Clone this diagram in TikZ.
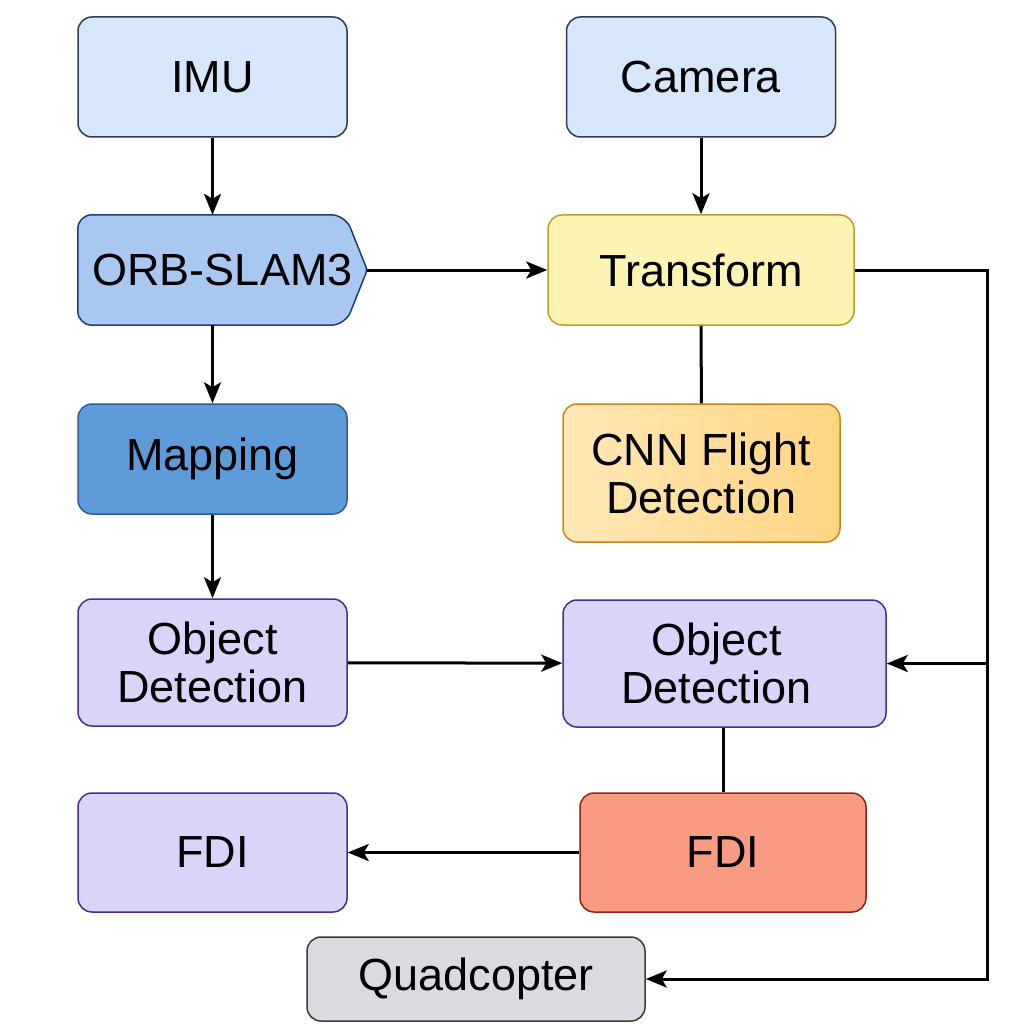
\documentclass[tikz,border=0pt]{standalone}
\usepackage{fontspec}
\setmainfont{Liberation Sans}
\usepackage{tikz}
\usetikzlibrary{arrows.meta,positioning}
\usepackage{xcolor}

\definecolor{sensfill}{HTML}{D6E6FB}
\definecolor{sensline}{HTML}{2B3A55}
\definecolor{orbfill}{HTML}{A8C8F2}
\definecolor{orbline}{HTML}{1E3C78}
\definecolor{transfill}{HTML}{FDF3B3}
\definecolor{transline}{HTML}{C49A2A}
\definecolor{mapfill}{HTML}{5C9BD8}
\definecolor{mapline}{HTML}{2C5C98}
\definecolor{cnnleft}{HTML}{FFE8B6}
\definecolor{cnnright}{HTML}{FFD582}
\definecolor{cnnline}{HTML}{C8861E}
\definecolor{objfill}{HTML}{D9D5F9}
\definecolor{objline}{HTML}{4A2C99}
\definecolor{fdifill}{HTML}{F99A82}
\definecolor{fdiline}{HTML}{8E2418}
\definecolor{quadfill}{HTML}{D9DBE0}
\definecolor{quadline}{HTML}{3A3A3A}

\tikzset{
  block/.style={rectangle,rounded corners=14pt,draw,line width=1.5pt,
    align=center,inner sep=0pt,text=black,
    font=\fontsize{45}{48}\selectfont},
  sensor/.style={block,fill=sensfill,draw=sensline,minimum width=269pt,minimum height=120pt},
  objbox/.style={block,fill=objfill,draw=objline,minimum height=127pt},
  link/.style={line width=3pt,black},
  flow/.style={link,-{Stealth[length=21pt,width=17pt,inset=5pt]}}
}

\begin{document}
\begin{tikzpicture}[x=1pt,y=-1pt]
      \useasboundingbox[fill=white] (0,0) rectangle (1024,1024);

      % sensors
      \node[sensor] (imu) at (212.5,77) {IMU};
      \node[sensor] (camera) at (701,77) {Camera};

      % left column
      \node[minimum width=289pt,minimum height=110pt,inner sep=0pt] (orb) at (222.5,270) {};
      \filldraw[fill=orbfill,draw=orbline,line width=1.5pt,rounded corners=14pt]
        (orb.north) -- ([xshift=-22pt]orb.north east) [rounded corners=3pt] -- (orb.east)
        [rounded corners=14pt] -- ([xshift=-22pt]orb.south east) -- (orb.south west)
        -- (orb.north west) -- cycle;
      \node[font=\fontsize{45}{48}\selectfont] at (orb.center) {ORB-SLAM3};
      \node[block,fill=mapfill,draw=mapline,minimum width=269pt,minimum height=110pt] (mapping) at (212.5,459) {Mapping};
      \node[objbox,minimum width=269pt] (objL) at (212.5,662.5) {Object\\Detection};
      \node[block,fill=objfill,draw=objline,minimum width=269pt,minimum height=119pt] (fdiL) at (212.5,852.5) {FDI};

      % right column
      \node[block,fill=transfill,draw=transline,minimum width=306pt,minimum height=110pt] (trans) at (701,270) {Transform};
      \node[block,left color=cnnleft,right color=cnnright,draw=cnnline,minimum width=277pt,minimum height=138pt] (cnn) at (701.5,473) {CNN Flight\\Detection};
      \node[objbox,minimum width=323pt] (objR) at (724.5,663.5) {};
      \node[font=\fontsize{45}{48}\selectfont,align=center] at ([xshift=-8pt]objR.center) {Object\\Detection};
      \node[block,fill=fdifill,draw=fdiline,minimum width=286pt,minimum height=119pt] (fdiR) at (723,852.5) {FDI};
      \node[block,fill=quadfill,draw=quadline,minimum width=338pt,minimum height=84pt] (quad) at (476,979) {Quadcopter};

      \coordinate (rail) at (987,270);

      % connectors
      \draw[flow] (imu) -- (imu |- orb.north);
      \draw[flow] (camera) -- (trans);
      \draw[flow] (orb.east) -- (trans.west);
      \draw[flow] (imu |- orb.south) -- (mapping);
      \draw[link] (trans) -- (cnn);
      \draw[flow] (mapping) -- (objL);
      \draw[flow] (objL) -- (objR);
      \draw[link] (objR.south -| fdiR) -- (fdiR);
      \draw[flow] (fdiR) -- (fdiL);
      \draw[flow] (trans.east) -- (rail) |- (quad.east);
      \draw[flow] (objR.east -| rail) -- (objR.east);
    \end{tikzpicture}
\end{document}
